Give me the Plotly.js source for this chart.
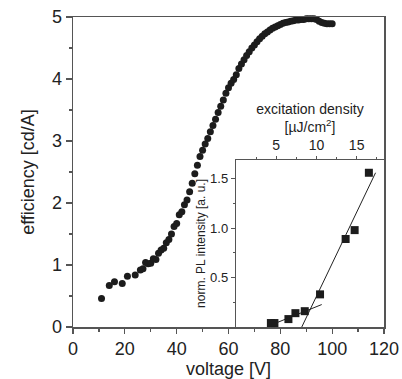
<!DOCTYPE html>
<html>
<head>
<meta charset="utf-8">
<script src="https://cdn.plot.ly/plotly-3.0.1.min.js"></script>
<style>html,body{margin:0;padding:0;background:#fff;}#chart{width:402px;height:379px;}</style>
</head>
<body>
<div id="chart"></div>
<script>
// Main curve: voltage [V] vs efficiency [cd/A]
const voltage = [11,14,16,19,21,24,26,27,28,29,30,31,32,33,34,35,36,37,38,39,40,41,42,43,44,45,46,47,48,49,50,51,52,53,54,55,56,57,58,59,60,61,62,63,64,65,66,67,68,69,70,71,72,73,74,75,76,77,78,79,80,81,82,83,84,85,86,87,88,89,90,91,92,93,94,95,96,97,98,99,100];
const efficiency = [0.46,0.67,0.73,0.70,0.82,0.84,0.92,0.94,1.04,1.02,1.03,1.10,1.09,1.19,1.24,1.27,1.36,1.41,1.50,1.62,1.67,1.81,1.86,1.97,2.05,2.18,2.32,2.47,2.61,2.75,2.85,2.95,3.04,3.15,3.25,3.35,3.46,3.56,3.66,3.77,3.86,3.93,3.99,4.07,4.17,4.24,4.31,4.38,4.44,4.50,4.55,4.60,4.65,4.69,4.73,4.76,4.79,4.82,4.84,4.86,4.88,4.90,4.91,4.92,4.93,4.94,4.95,4.95,4.96,4.96,4.97,4.97,4.97,4.97,4.96,4.93,4.91,4.90,4.89,4.89,4.89];

// Inset: excitation density [µJ/cm²] vs normalized PL intensity
const excitation = [4.34,4.78,6.52,7.39,8.55,10.45,13.63,14.75,16.52];
const plIntensity = [0.04,0.04,0.08,0.14,0.16,0.33,0.89,0.98,1.56];

// Fit lines (endpoints)
const fitSteepX = [8.18,17.35];
const fitSteepY = [0,1.56];
const fitShallowX = [4.66,10.66];
const fitShallowY = [0.03,0.227];

// Tick labels
const insetXTicks = [5, 10, 15];
const insetYTicks = [0.5, 1.0, 1.5];
const insetYTickText = ['0.5', '1.0', '1.5'];

const FONT = 'Liberation Sans, Arial, sans-serif';
const AX = '#555';
const TXT = '#222';

const traces = [
  {x: voltage, y: efficiency, type: 'scatter', mode: 'markers',
   marker: {size: 7, color: '#1c1c1c'}, xaxis: 'x', yaxis: 'y', cliponaxis: false, hoverinfo: 'skip'},
  {x: fitSteepX, y: fitSteepY, type: 'scatter', mode: 'lines',
   line: {color: '#222', width: 1}, xaxis: 'x2', yaxis: 'y2', hoverinfo: 'skip'},
  {x: fitShallowX, y: fitShallowY, type: 'scatter', mode: 'lines',
   line: {color: '#222', width: 1}, xaxis: 'x2', yaxis: 'y2', hoverinfo: 'skip'},
  {x: excitation, y: plIntensity, type: 'scatter', mode: 'markers',
   marker: {symbol: 'square', size: 8, color: '#1c1c1c'}, xaxis: 'x2', yaxis: 'y2', cliponaxis: false, hoverinfo: 'skip'}
];

const layout = {
  width: 402, height: 379,
  margin: {l: 73, r: 18, t: 17, b: 52},
  paper_bgcolor: '#fff', plot_bgcolor: '#fff',
  showlegend: false,
  font: {family: FONT, color: TXT},
  xaxis: {
    domain: [0, 1], range: [0, 120], dtick: 20, tick0: 0,
    ticks: 'outside', ticklen: 5, tickwidth: 1.2, tickcolor: AX,
    minor: {dtick: 10, ticks: 'outside', ticklen: 3, tickcolor: AX},
    showline: true, linecolor: AX, linewidth: 1.5, mirror: true,
    showgrid: false, zeroline: false,
    tickfont: {size: 18, color: TXT},
    title: {text: 'voltage [V]', font: {size: 18, color: TXT}, standoff: 2}
  },
  yaxis: {
    domain: [0, 1], range: [0, 5], dtick: 1, tick0: 0,
    ticks: 'outside', ticklen: 6, tickwidth: 1.2, tickcolor: AX,
    minor: {dtick: 0.5, ticks: 'outside', ticklen: 3, tickcolor: AX},
    showline: true, linecolor: AX, linewidth: 1.5, mirror: true,
    showgrid: false, zeroline: false,
    tickfont: {size: 18, color: TXT},
    title: {text: 'efficiency [cd/A]', font: {size: 18, color: TXT}, standoff: 12}
  },
  xaxis2: {
    domain: [0.524, 1], range: [0, 18.4], anchor: 'y2', side: 'top',
    tickvals: insetXTicks, ticktext: insetXTicks.map(String),
    ticks: 'outside', ticklen: 3, tickwidth: 1, tickcolor: AX,
    minor: {tickvals: [2.5, 7.5, 12.5, 17.5], ticks: 'outside', ticklen: 2, tickcolor: AX},
    showline: true, linecolor: AX, linewidth: 1.2, mirror: false,
    showgrid: false, zeroline: false,
    tickfont: {size: 14, color: TXT},
    title: {text: 'excitation density<br>[µJ/cm<sup>2</sup>]', font: {size: 14, color: TXT}, standoff: 1}
  },
  yaxis2: {
    domain: [0, 0.539], range: [0, 1.69], anchor: 'x2', side: 'left',
    tickvals: insetYTicks, ticktext: insetYTickText,
    ticks: 'outside', ticklen: 4, tickwidth: 1, tickcolor: AX,
    minor: {tickvals: [0.25, 0.75, 1.25], ticks: 'outside', ticklen: 2, tickcolor: AX},
    showline: true, linecolor: AX, linewidth: 1.2, mirror: true,
    showgrid: false, zeroline: false,
    tickfont: {size: 13, color: TXT},
    title: {text: 'norm. PL intensity [a. u.]', font: {size: 12, color: TXT}, standoff: 1}
  }
};

Plotly.newPlot('chart', traces, layout, {staticPlot: true, displayModeBar: false});
</script>
</body>
</html>
